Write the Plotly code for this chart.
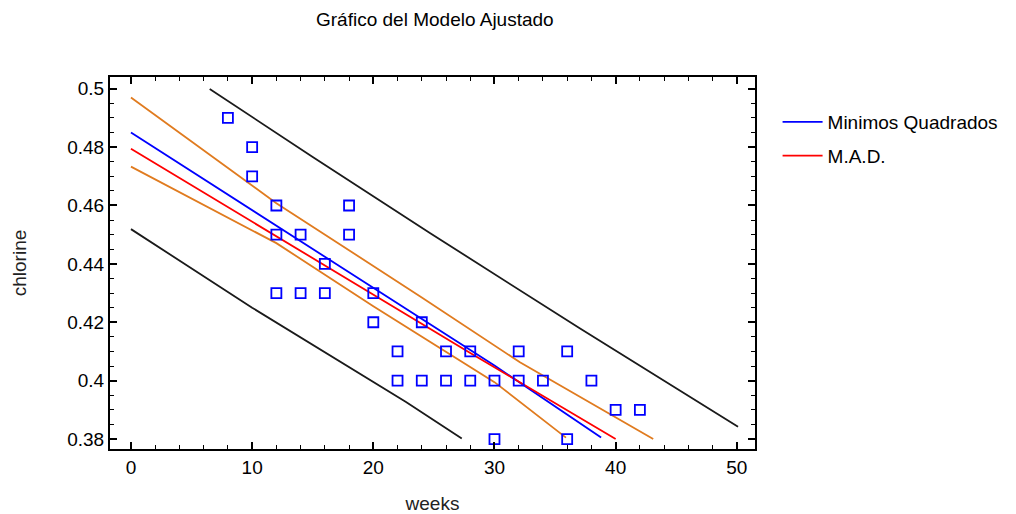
import plotly.graph_objects as go

# Observed data
weeks = [8, 10, 10, 12, 12, 12, 14, 14, 16, 16, 18, 18, 20, 20, 22, 22, 24, 24,
         26, 26, 28, 28, 30, 30, 32, 32, 34, 36, 36, 38, 40, 42]
chlorine = [0.49, 0.48, 0.47, 0.46, 0.45, 0.43, 0.45, 0.43, 0.44, 0.43, 0.46, 0.45,
            0.43, 0.42, 0.41, 0.40, 0.42, 0.40, 0.41, 0.40, 0.41, 0.40, 0.40, 0.38,
            0.41, 0.40, 0.40, 0.41, 0.38, 0.40, 0.39, 0.39]

# Fitted lines
ls_x = [0, 10, 20, 30, 38.8]
ls_y = [0.485, 0.4584, 0.4318, 0.4052, 0.3805]
mad_x = [0, 10, 20, 28, 40]
mad_y = [0.4794, 0.4545, 0.4296, 0.4095, 0.380]
conf_up_x = [0, 12, 24, 32.1, 43.1]
conf_up_y = [0.497, 0.4608, 0.4285, 0.4063, 0.380]
conf_lo_x = [0, 12, 20, 30, 35.9]
conf_lo_y = [0.4733, 0.4471, 0.4255, 0.3995, 0.3805]
pred_up_x = [6.5, 15, 24.7, 37, 50.1]
pred_up_y = [0.4999, 0.4766, 0.4505, 0.4180, 0.3842]
pred_lo_x = [0, 10, 22.7, 27.3]
pred_lo_y = [0.4519, 0.4250, 0.3927, 0.3802]

FONT = "Liberation Sans, Arial"

fig = go.Figure()
for xs, ys in [(pred_up_x, pred_up_y), (pred_lo_x, pred_lo_y)]:
    fig.add_trace(go.Scatter(x=xs, y=ys, mode="lines", line=dict(color="#1a1a1a", width=1.8),
                             showlegend=False, hoverinfo="skip"))
for xs, ys in [(conf_up_x, conf_up_y), (conf_lo_x, conf_lo_y)]:
    fig.add_trace(go.Scatter(x=xs, y=ys, mode="lines", line=dict(color="#e07b1f", width=1.8),
                             showlegend=False, hoverinfo="skip"))
fig.add_trace(go.Scatter(x=ls_x, y=ls_y, mode="lines", name="Minimos Quadrados",
                         legendgroup="a", line=dict(color="#0000ff", width=1.8)))
fig.add_trace(go.Scatter(x=mad_x, y=mad_y, mode="lines", name="M.A.D.",
                         legendgroup="b", line=dict(color="#ff0000", width=1.8)))
fig.add_trace(go.Scatter(x=weeks, y=chlorine, mode="markers", showlegend=False,
                         marker=dict(symbol="square-open", size=10, color="#0000ff",
                                     line=dict(width=1.8))))

axis_common = dict(showgrid=False, zeroline=False, showline=True, linecolor="black",
                   linewidth=2, mirror="ticks", ticks="inside", tickcolor="black",
                   ticklen=7, tickwidth=1.5, automargin=False,
                   tickfont=dict(family=FONT, size=19, color="black"))

fig.update_xaxes(range=[-1.73, 51.5], tickvals=[0, 10, 20, 30, 40, 50],
                 minor=dict(dtick=2, ticks="inside", ticklen=4, tickcolor="black", tickwidth=1.2),
                 title=dict(text="weeks", font=dict(family=FONT, size=19, color="#222"),
                            standoff=22),
                 **axis_common)
fig.update_yaxes(range=[0.3766, 0.504], tickvals=[0.38, 0.40, 0.42, 0.44, 0.46, 0.48, 0.50],
                 ticktext=["0.38", "0.4", "0.42", "0.44", "0.46", "0.48", "0.5"],
                 minor=dict(dtick=0.005, ticks="inside", ticklen=4, tickcolor="black", tickwidth=1.2),
                 title=dict(text="chlorine", font=dict(family=FONT, size=19, color="#222"),
                            standoff=36),
                 **axis_common)

fig.update_layout(
    width=1016, height=514,
    margin=dict(l=110, r=261, t=77, b=65),
    paper_bgcolor="white", plot_bgcolor="white",
    title=dict(text="Gráfico del Modelo Ajustado", x=0.428, xanchor="center", y=0.975, yanchor="top",
               font=dict(family=FONT, size=19, color="black")),
    legend=dict(x=1.035, y=0.93, xanchor="left", yanchor="top", bgcolor="rgba(0,0,0,0)",
                font=dict(family=FONT, size=19, color="black"),
                tracegroupgap=6, itemwidth=40),
    showlegend=True,
)

fig.write_html("out.html")
